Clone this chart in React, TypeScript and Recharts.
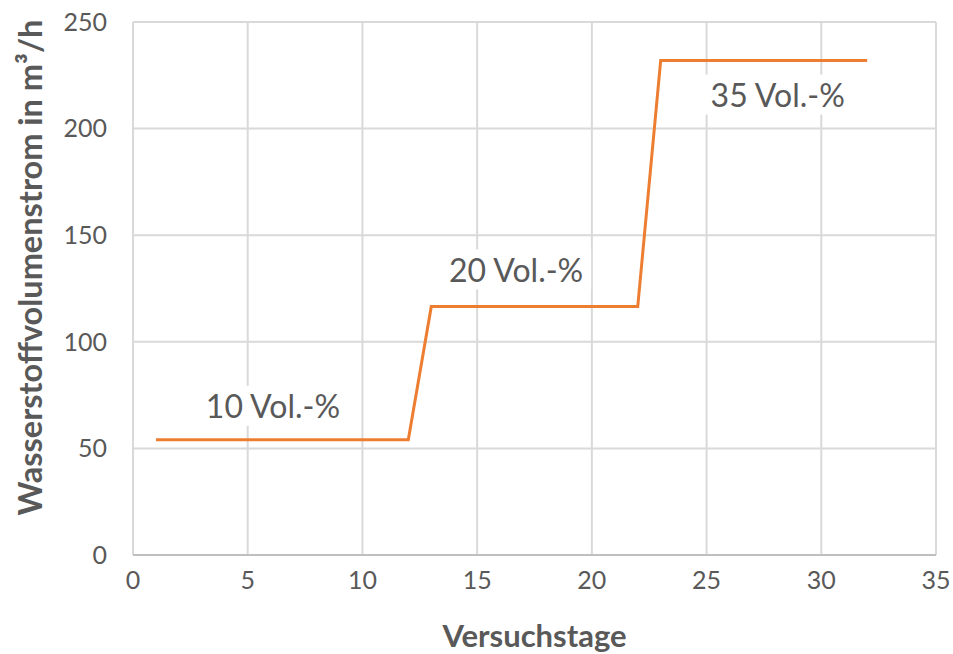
import { LineChart, Line, XAxis, YAxis, CartesianGrid, ReferenceDot, Label } from 'recharts';

const days = [1, 2, 3, 4, 5, 6, 7, 8, 9, 10, 11, 12, 13, 14, 15, 16, 17, 18, 19, 20, 21, 22, 23, 24, 25, 26, 27, 28, 29, 30, 31, 32];
const h2Flow = [
  54, 54, 54, 54, 54, 54, 54, 54, 54, 54, 54, 54,
  116.5, 116.5, 116.5, 116.5, 116.5, 116.5, 116.5, 116.5, 116.5, 116.5,
  232, 232, 232, 232, 232, 232, 232, 232, 232, 232,
];
const xTicks = [0, 5, 10, 15, 20, 25, 30, 35];
const yTicks = [0, 50, 100, 150, 200, 250];

// text annotations, anchored in data coordinates
const annotations = [
  { text: '10 Vol.-%', day: 6.1, value: 70 },
  { text: '20 Vol.-%', day: 16.7, value: 134 },
  { text: '35 Vol.-%', day: 28.1, value: 216 },
];

const data = days.map((d, i) => ({ day: d, flow: h2Flow[i] }));

const FONT = 'Lato, "Open Sans", sans-serif';
const TEXT = '#595959';

function BoxLabel(props: any) {
  const { viewBox, value } = props;
  const cx = viewBox.x + (viewBox.width || 0) / 2;
  const cy = viewBox.y + (viewBox.height || 0) / 2;
  const w = 150;
  const h = 40;
  return (
    <g>
      <rect x={cx - w / 2} y={cy - h / 2} width={w} height={h} fill="#fff" />
      <text x={cx} y={cy} textAnchor="middle" dominantBaseline="central" fill={TEXT} fontSize={32} fontFamily={FONT}>
        {value}
      </text>
    </g>
  );
}

export default function App() {
  return (
    <div style={{ position: 'absolute', left: 0, top: 0, width: 953, height: 654, background: '#fff' }}>
      <LineChart width={953} height={654} data={data} margin={{ top: 22, right: 17, bottom: 0, left: 0 }}>
        <CartesianGrid stroke="#d9d9d9" strokeWidth={2} />
        <XAxis
          dataKey="day"
          type="number"
          domain={[0, 35]}
          ticks={xTicks}
          height={99}
          tickSize={0}
          tickMargin={16}
          axisLine={{ stroke: '#bfbfbf', strokeWidth: 2 }}
          tick={{ fill: TEXT, fontSize: 25, fontFamily: FONT }}
        >
          <Label
            value="Versuchstage"
            position="insideBottom"
            offset={7}
            fill={TEXT}
            fontSize={31}
            fontWeight="bold"
            fontFamily={FONT}
          />
        </XAxis>
        <YAxis
          type="number"
          domain={[0, 250]}
          ticks={yTicks}
          width={133}
          tickSize={0}
          tickMargin={26}
          axisLine={false}
          tick={{ fill: TEXT, fontSize: 25, fontFamily: FONT }}
        >
          <Label
            value="Wasserstoffvolumenstrom in m³/h"
            angle={-90}
            position="center"
            dx={-36}
            dy={-21}
            fill={TEXT}
            fontSize={32.5}
            fontWeight="bold"
            fontFamily={FONT}
          />
        </YAxis>
        {annotations.map((a) => (
          <ReferenceDot
            key={a.text}
            x={a.day}
            y={a.value}
            r={0}
            fill="none"
            stroke="none"
            label={<BoxLabel value={a.text} />}
          />
        ))}
        <Line
          type="linear"
          dataKey="flow"
          stroke="#ED7D31"
          strokeWidth={3}
          dot={false}
          isAnimationActive={false}
        />
      </LineChart>
    </div>
  );
}
